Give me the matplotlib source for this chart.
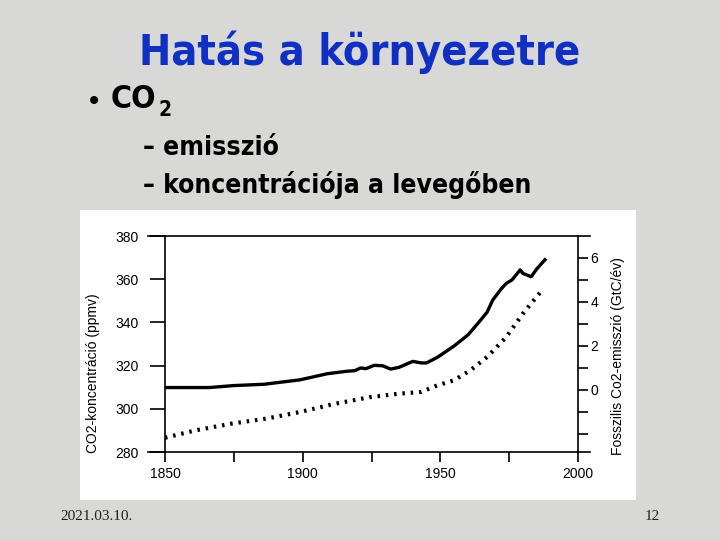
import matplotlib
matplotlib.use("Agg")
import matplotlib.pyplot as plt
from matplotlib.patches import Rectangle
from matplotlib.ticker import FixedLocator

# emission (solid line, right axis, GtC/yr)
em_years = [1850, 1866, 1875, 1886, 1899, 1909, 1916, 1919, 1921, 1923, 1926, 1929,
            1932, 1935, 1940, 1943, 1945, 1949, 1955, 1960, 1964, 1967, 1969, 1972,
            1974, 1976, 1979, 1980, 1983, 1985, 1988]
em_vals = [0.11, 0.11, 0.20, 0.26, 0.46, 0.74, 0.85, 0.88, 1.00, 0.97, 1.12, 1.10,
           0.95, 1.03, 1.30, 1.23, 1.23, 1.49, 2.00, 2.50, 3.08, 3.54, 4.08, 4.58,
           4.85, 5.00, 5.46, 5.30, 5.15, 5.50, 5.92]

# concentration (dotted line, left axis, ppmv)
co2_years = [1850, 1861, 1874, 1887, 1899, 1912, 1925, 1935, 1943, 1949, 1955, 1961,
             1967, 1974, 1980, 1987]
co2_vals = [286.6, 290.0, 293.1, 295.5, 298.5, 302.4, 305.5, 307.0, 307.8, 310.9,
            313.2, 317.9, 324.0, 333.3, 344.1, 355.0]

left_ticks = [280, 300, 320, 340, 360, 380]
right_major = [0, 2, 4, 6]
right_minor = [-2, -1, 1, 3, 5]
x_major = [1850, 1900, 1950, 2000]
x_minor = [1875, 1925, 1975]

W, H = 720, 540
fig = plt.figure(figsize=(7.2, 5.4), dpi=100)
fig.patch.set_facecolor("#d8d8d6")

def fx(px): return px / W
def fy(py): return 1 - py / H

# white picture panel (behind the axes)
fig.add_artist(Rectangle((fx(80), fy(500)), fx(636) - fx(80), fy(210) - fy(500),
                         transform=fig.transFigure, facecolor="white",
                         edgecolor="none", zorder=-5))

# slide texts
title_font = dict(family="DejaVu Sans", fontweight="bold", fontstretch="condensed")
fig.text(fx(360), fy(52), "Hatás a környezetre", ha="center", va="center",
         color="#1030c4", fontsize=31, **title_font)
fig.text(fx(86), fy(102), "•", ha="left", va="center", fontsize=20, color="black")
fig.text(fx(111), fy(100), "CO", ha="left", va="center", fontsize=23, color="black", **title_font)
fig.text(fx(159), fy(110), "2", ha="left", va="center", fontsize=15, color="black", **title_font)
fig.text(fx(143), fy(148), "– emisszió", ha="left", va="center", fontsize=19, color="black", **title_font)
fig.text(fx(143), fy(185), "– koncentrációja a levegőben", ha="left", va="center",
         fontsize=19, color="black", **title_font)
fig.text(fx(60), fy(517), "2021.03.10.", ha="left", va="center", fontsize=11,
         family="Liberation Serif", color="#202020")
fig.text(fx(660), fy(517), "12", ha="right", va="center", fontsize=11,
         family="Liberation Serif", color="#202020")

# chart
ax = fig.add_axes([fx(165), fy(452), fx(578) - fx(165), fy(236) - fy(452)])
ax.patch.set_alpha(0)
ax2 = ax.twinx()

ax.plot(co2_years, co2_vals, color="black", linestyle=(0, (0.6, 1.4)),
        linewidth=3, dash_capstyle="butt")
ax2.plot(em_years, em_vals, color="black", linewidth=2.4)

ax.set_xlim(1850, 2000)
ax.set_ylim(280, 380)
ax2.set_ylim(-2.82, 7.0)

for a in (ax, ax2):
    for s in a.spines.values():
        s.set_visible(False)
ax.spines["left"].set_visible(True)
ax.spines["left"].set_linewidth(1.2)
ax2.spines["right"].set_visible(True)
ax2.spines["right"].set_linewidth(1.2)

# long top and bottom frame lines
for yy in (0, 1):
    ax.plot([-0.04, 1.03], [yy, yy], transform=ax.transAxes, color="black",
            linewidth=1.2, clip_on=False)

cfont = "Liberation Sans"
ax.set_yticks(left_ticks)
ax.set_xticks(x_major)
ax.xaxis.set_minor_locator(FixedLocator(x_minor))
ax2.set_yticks(right_major)
ax2.yaxis.set_minor_locator(FixedLocator(right_minor))

ax.tick_params(axis="y", direction="out", length=11, width=1.2, labelsize=10, pad=8)
ax.tick_params(axis="x", which="both", direction="out", length=7, width=1.2,
               labelsize=10, pad=4)
ax2.tick_params(axis="y", which="both", direction="out", length=7, width=1.2,
                labelsize=10, pad=2)
for lab in ax.get_xticklabels() + ax.get_yticklabels() + ax2.get_yticklabels():
    lab.set_fontfamily(cfont)

fig.text(fx(93), fy(373), "CO2-koncentráció (ppmv)", rotation=90, ha="center",
         va="center", fontsize=10, family=cfont)
fig.text(fx(618), fy(356), "Fosszilis Co2-emisszió (GtC/év)", rotation=90,
         ha="center", va="center", fontsize=10, family=cfont)

fig.savefig("out.png", dpi=100, facecolor=fig.get_facecolor())
